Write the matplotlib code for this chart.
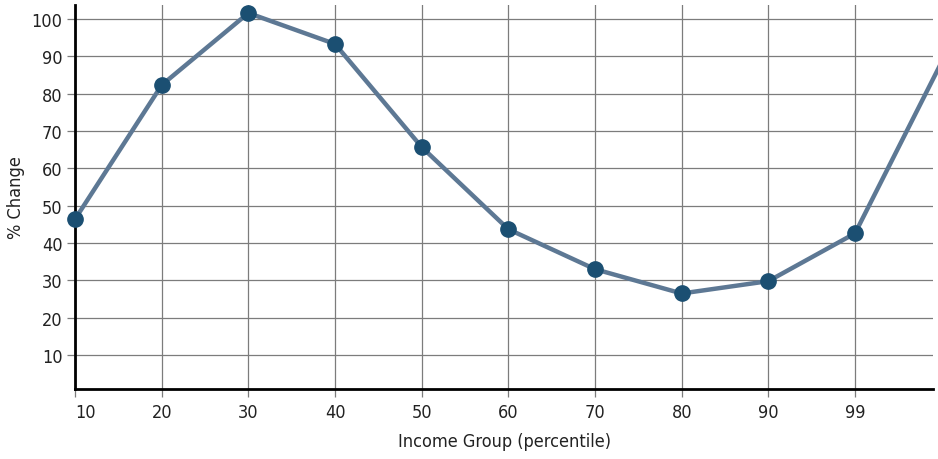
import numpy as np
import matplotlib
matplotlib.use('Agg')
import matplotlib.pyplot as plt

plt.rcParams['font.family'] = ['Liberation Sans Narrow', 'DejaVu Sans']
plt.rcParams['font.stretch'] = 'condensed'

# income groups (percentile) and % change; last point sits just off the right edge
groups = ['10', '20', '30', '40', '50', '60', '70', '80', '90', '99', '99.9']
pct_change = [46.4, 82.3, 101.6, 93.3, 65.7, 43.7, 33.0, 26.5, 29.8, 42.6, 88.5]
yticks = [10, 20, 30, 40, 50, 60, 70, 80, 90, 100]

line_col = '#5d7894'
dot_col = '#1b4f72'
grid_col = '#7c7c7c'

fig = plt.figure(figsize=(9.38, 4.6), dpi=100)
ax = fig.add_axes([0.08, 0.152, 0.9147, 0.835])

x = np.arange(len(groups))
ax.plot(x, pct_change, color=line_col, lw=3.2, zorder=3, clip_on=False)
ax.plot(x[:-1], pct_change[:-1], 'o', color=dot_col, ms=11, zorder=4, clip_on=False)

ax.set_xlim(0, 9.9)
ax.set_ylim(0.9, 103.75)
ax.set_xticks(x[:-1])
ax.set_xticklabels(groups[:-1])
ax.set_yticks(yticks)

ax.grid(True, color=grid_col, lw=0.9)
ax.set_axisbelow(True)
for s in ['top', 'right']:
    ax.spines[s].set_visible(False)
ax.spines['left'].set_linewidth(2)
ax.spines['bottom'].set_linewidth(2)

ax.tick_params(axis='both', colors=grid_col, labelcolor='#222222', labelsize=13, length=6, width=0.9)
ax.tick_params(axis='x', pad=4)
ax.tick_params(axis='y', pad=3)
for lab in ax.get_xticklabels()[:1]:
    lab.set_horizontalalignment('left')

ax.set_xlabel('Income Group (percentile)', fontsize=13, color='#222222', labelpad=8)
ax.set_ylabel('% Change', fontsize=13, color='#222222', labelpad=5)

fig.savefig('out.png', dpi=100)
